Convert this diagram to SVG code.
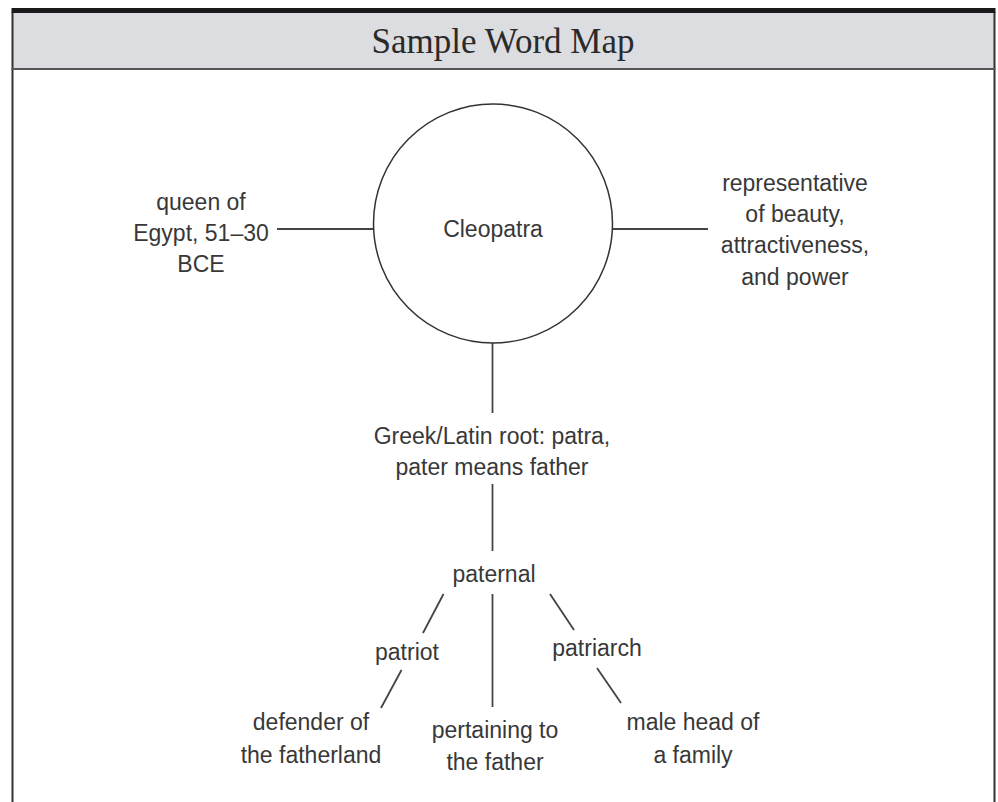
<svg xmlns="http://www.w3.org/2000/svg" width="998" height="802" viewBox="0 0 998 802">
<style>
.t{font-family:"Liberation Sans","Open Sans",sans-serif;font-size:23px;fill:#383838;text-anchor:middle}
.title{font-family:"Liberation Serif",serif;font-size:35px;fill:#2a2a2a;text-anchor:middle}
.c line{stroke:#444;stroke-width:1.8}
</style>
<rect x="0" y="0" width="998" height="802" fill="#fff"/>
<g id="frame">
<rect x="12.5" y="12" width="981.5" height="57" fill="#dcdde0"/>
<line x1="12.5" y1="12" x2="12.5" y2="802" stroke="#333" stroke-width="2"/>
<line x1="994.5" y1="12" x2="994.5" y2="802" stroke="#333" stroke-width="2"/>
<line x1="11.5" y1="10.5" x2="995.5" y2="10.5" stroke="#1a1a1a" stroke-width="5"/>
<line x1="11.5" y1="69" x2="995.5" y2="69" stroke="#555" stroke-width="2"/>
<text class="title" x="503" y="53">Sample Word Map</text>
</g>
<g class="c" id="connectors">
<line x1="277" y1="229" x2="373" y2="229"/>
<line x1="613" y1="229" x2="708" y2="229"/>
<line x1="492.5" y1="343" x2="492.5" y2="413"/>
<line x1="492.5" y1="484" x2="492.5" y2="551"/>
<line x1="443.5" y1="594" x2="423" y2="633"/>
<line x1="492.5" y1="594" x2="492.5" y2="707"/>
<line x1="550" y1="594" x2="574" y2="630"/>
<line x1="401.5" y1="670" x2="381" y2="708"/>
<line x1="597" y1="668" x2="621" y2="703"/>
</g>
<g id="cleopatra">
<circle cx="493" cy="223.5" r="119.5" fill="none" stroke="#333" stroke-width="1.5"/>
<text class="t" x="493" y="237">Cleopatra</text>
</g>
<g id="queen">
<text class="t" x="201" y="210">queen of</text>
<text class="t" x="201" y="241">Egypt, 51–30</text>
<text class="t" x="201" y="272">BCE</text>
</g>
<g id="representative">
<text class="t" x="795" y="191">representative</text>
<text class="t" x="795" y="222">of beauty,</text>
<text class="t" x="795" y="253">attractiveness,</text>
<text class="t" x="795" y="285">and power</text>
</g>
<g id="root">
<text class="t" x="492" y="444">Greek/Latin root: patra,</text>
<text class="t" x="492" y="475">pater means father</text>
</g>
<g id="paternal"><text class="t" x="494" y="582">paternal</text></g>
<g id="patriot"><text class="t" x="407" y="660">patriot</text></g>
<g id="patriarch"><text class="t" x="597" y="656">patriarch</text></g>
<g id="defender">
<text class="t" x="311" y="730">defender of</text>
<text class="t" x="311" y="763">the fatherland</text>
</g>
<g id="pertaining">
<text class="t" x="495" y="738">pertaining to</text>
<text class="t" x="495" y="770">the father</text>
</g>
<g id="malehead">
<text class="t" x="693" y="730">male head of</text>
<text class="t" x="693" y="763">a family</text>
</g>
</svg>
